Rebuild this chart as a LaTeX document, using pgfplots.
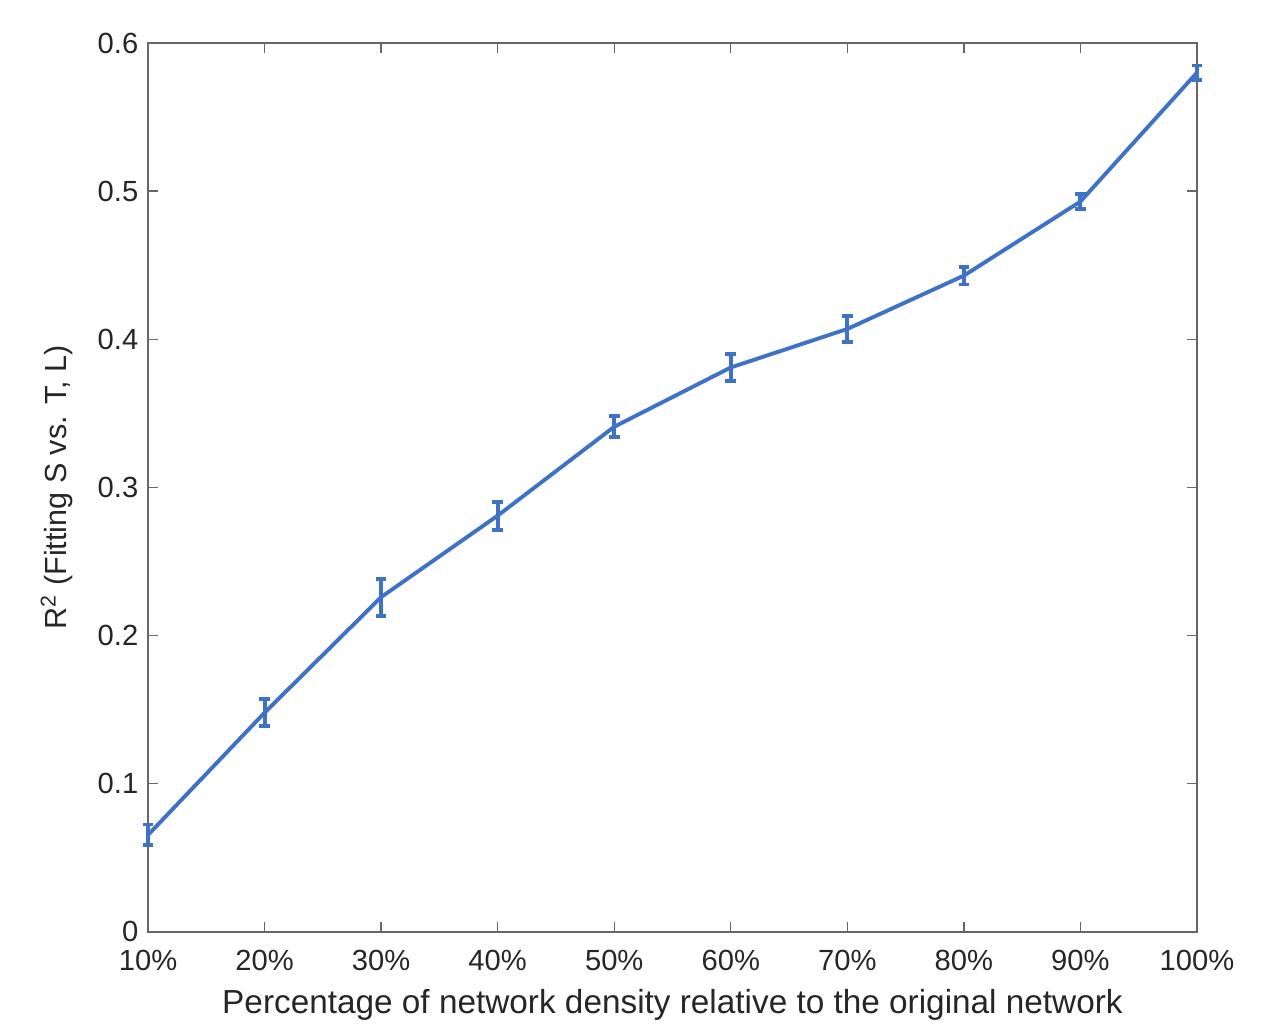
\documentclass[border=0pt]{standalone}
\usepackage{pgfplots}
\pgfplotsset{compat=1.18}
\usepackage{fontspec}
\setmainfont{Liberation Sans}
\definecolor{mblue}{RGB}{62,114,196}
\definecolor{axgray}{RGB}{38,38,38}
\begin{document}
\begin{tikzpicture}
\begin{axis}[
  scale only axis,
  width=377.6pt, height=320pt,
  xmin=10, xmax=100, ymin=0, ymax=0.6,
  xtick={10,20,30,40,50,60,70,80,90,100},
  xticklabels={10\%,20\%,30\%,40\%,50\%,60\%,70\%,80\%,90\%,100\%},
  ytick={0,0.1,0.2,0.3,0.4,0.5,0.6},
  yticklabels={0,0.1,0.2,0.3,0.4,0.5,0.6},
  tick align=inside,
  major tick length=3.6pt,
  axis line style={draw=black!60, line width=0.5pt},
  tick style={draw=black!60, line width=0.5pt},
  ticklabel style={font=\fontsize{10.5}{12}\selectfont, text=axgray},
  xticklabel style={yshift=-3pt},
  xlabel style={font=\fontsize{12}{14}\selectfont, text=axgray, yshift=0pt},
  ylabel style={font=\fontsize{11}{13}\selectfont, text=axgray, yshift=2pt},
  xlabel={Percentage of network density relative to the original network},
  ylabel={R\textsuperscript{2} (Fitting S vs. T, L)},
  clip=false,
]
\addplot[color=mblue, line width=1.4pt, mark=none,
  error bars/.cd, y dir=both, y explicit,
  error bar style={line width=1.4pt, color=mblue},
  error mark options={rotate=90, mark size=1.9pt, line width=1.4pt, color=mblue}]
coordinates {
  (10,0.0655) +- (0,0.007)
  (20,0.148) +- (0,0.009)
  (30,0.226) +- (0,0.0125)
  (40,0.281) +- (0,0.0095)
  (50,0.341) +- (0,0.007)
  (60,0.381) +- (0,0.009)
  (70,0.407) +- (0,0.0085)
  (80,0.443) +- (0,0.006)
  (90,0.493) +- (0,0.005)
  (100,0.580) +- (0,0.0048)
};
\coordinate (sw) at (rel axis cs:0,0);
\coordinate (ne) at (rel axis cs:1,1);
\end{axis}
\pgfresetboundingbox
\path[use as bounding box] ([shift={(-53.3pt,-36.7pt)}]sw) rectangle ([shift={(26.3pt,15.5pt)}]ne);
\end{tikzpicture}
\end{document}
